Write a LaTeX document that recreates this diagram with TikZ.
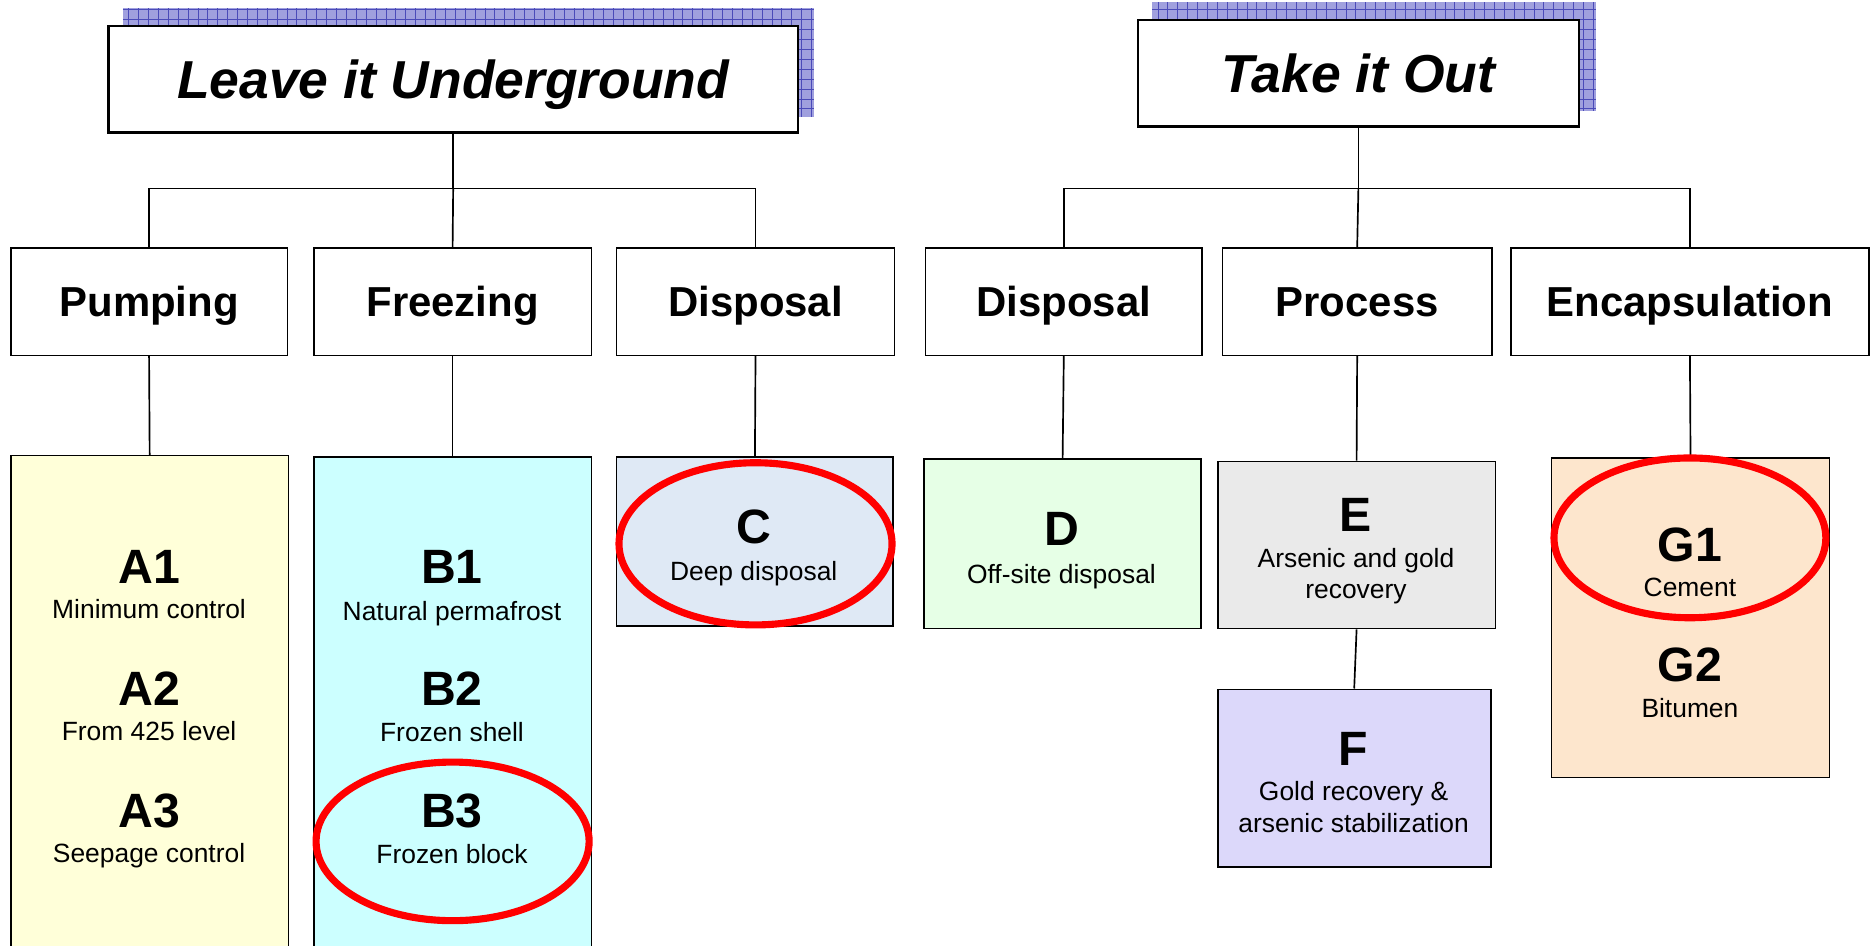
\documentclass[tikz,border=0pt]{standalone}
\usepackage{fontspec}
\setmainfont{Liberation Sans}
\usetikzlibrary{
    shapes.geometric,
    positioning,
    calc,
    backgrounds
}
\definecolor{shadowfill}{RGB}{160, 160, 222}
\definecolor{shadowgrid}{RGB}{75, 75, 185}
\definecolor{pumpyellow}{RGB}{255, 255, 217}
\definecolor{freezecyan}{RGB}{204, 255, 255}
\definecolor{deepblue}{RGB}{223, 233, 245}
\definecolor{offgreen}{RGB}{230, 255, 230}
\definecolor{procgray}{RGB}{234, 234, 234}
\definecolor{goldlav}{RGB}{220, 216, 250}
\definecolor{encpeach}{RGB}{253, 230, 205}

\begin{document}
\begin{tikzpicture}[
        x=0.02cm, y=-0.02cm,
        title/.style={rectangle, draw, line width=1.1pt, fill=white, minimum height=1.78cm, text depth=0pt, font=\fontsize{25.5}{30}\selectfont\bfseries\itshape},
        head/.style={rectangle, draw, line width=0.8pt, fill=white, minimum height=1.8cm, text depth=0pt, font=\fontsize{20}{24}\selectfont\bfseries},
        panel/.style={rectangle, draw, line width=0.8pt},
        code/.style={anchor=base, font=\fontsize{23}{27}\selectfont\bfseries},
        desc/.style={anchor=base, font=\fontsize{12.6}{15}\selectfont},
        pick/.style={ellipse, draw=red, line width=3.4pt},
        link/.style={line width=0.8pt}
    ]
        \useasboundingbox (0,0) rectangle (1568,793);
        \clip (0,0) rectangle (1568,793);

        % Row 1: the two ways
        \node[title, minimum width=11.56cm] (under) at (380,66.5) {Leave it Underground};
        \node[title, minimum width=7.4cm] (out) at (1139,61.5) {Take it Out};

        % Row 2: options
        \node[head, minimum width=4.64cm] (pump) at (125,253) {Pumping};
        \node[head, minimum width=4.66cm] (freeze) at (379.5,253) {Freezing};
        \node[head, minimum width=4.66cm] (dispin) at (633.5,253) {Disposal};
        \node[head, minimum width=4.64cm] (dispout) at (892,253) {Disposal};
        \node[head, minimum width=4.52cm] (proc) at (1138,253) {Process};
        \node[head, minimum width=6cm] (encap) at (1417,253) {Encapsulation};

        % Row 3: alternatives
        \node[panel, fill=pumpyellow, minimum width=4.66cm, minimum height=8.96cm] (pa) at (125.5,606) {};
        \node[panel, fill=freezecyan, minimum width=4.66cm, minimum height=8.94cm] (pb) at (379.5,606.5) {};
        \node[panel, fill=deepblue, minimum width=4.64cm, minimum height=2.84cm] (pc) at (633,454) {};
        \node[panel, fill=offgreen, minimum width=4.64cm, minimum height=2.84cm] (pd) at (891,456) {};
        \node[panel, fill=procgray, minimum width=4.66cm, minimum height=2.8cm] (pe) at (1137.5,457) {};
        \node[panel, fill=goldlav, minimum width=4.58cm, minimum height=2.98cm] (pf) at (1135.5,652.5) {};
        \node[panel, fill=encpeach, minimum width=4.66cm, minimum height=5.36cm] (pg) at (1417.5,518) {};

        % Pumping
        \node[code] (a1) at (125,489.5) {A1};
        \node[desc] (a1t) at (125,519) {Minimum control};
        \node[code] (a2) at (125,591.5) {A2};
        \node[desc] (a2t) at (125,621) {From 425 level};
        \node[code] (a3) at (125,693.5) {A3};
        \node[desc] (a3t) at (125,723) {Seepage control};

        % Freezing
        \node[code] (b1) at (379,489.5) {B1};
        \node[desc] (b1t) at (379,520) {Natural permafrost};
        \node[code] (b2) at (379,591.5) {B2};
        \node[desc] (b2t) at (379,622) {Frozen shell};
        \node[code] (b3) at (379,693.5) {B3};
        \node[desc] (b3t) at (379,724) {Frozen block};

        % Disposal, process, encapsulation
        \node[code] (c) at (632,455.5) {C};
        \node[desc] (ct) at (632,487) {Deep disposal};
        \node[code] (d) at (890,457.5) {D};
        \node[desc] (dt) at (890,489) {Off-site disposal};
        \node[code] (e) at (1137,445.5) {E};
        \node[desc] (et) at (1137,476) {Arsenic and gold};
        \node[desc] (et2) at (1137,502) {recovery};
        \node[code] (f) at (1135,641.5) {F};
        \node[desc] (ft) at (1135,671) {Gold recovery \&};
        \node[desc] (ft2) at (1135,698) {arsenic stabilization};
        \node[code] (g1) at (1417,470.5) {G1};
        \node[desc] (g1t) at (1417,500) {Cement};
        \node[code] (g2) at (1417,571.5) {G2};
        \node[desc] (g2t) at (1417,602) {Bitumen};

        % Tree lines
        \draw[link] (under.south) -- ++(0,46) coordinate (j1);
        \draw[link] (j1) -| (pump.north);
        \draw[link] (j1) -- (freeze.north);
        \draw[link] (j1) -| (dispin.north);
        \draw[link] (out.south) -- ++(0,51) coordinate (j2);
        \draw[link] (j2) -| (dispout.north);
        \draw[link] (j2) -- (proc.north);
        \draw[link] (j2) -| (encap.north);

        \draw[link] (pump.south) -- (pa.north);
        \draw[link] (freeze.south) -- (pb.north);
        \draw[link] (dispin.south) -- (pc.north);
        \draw[link] (dispout.south) -- (pd.north);
        \draw[link] (proc.south) -- (pe.north);
        \draw[link] (pe.south) -- (pf.north);
        \draw[link] (encap.south) -- (pg.north);

        % Chosen alternatives
        \node[pick, minimum width=4.58cm, minimum height=2.72cm] (pickc) at (633.5,456) {};
        \node[pick, minimum width=4.58cm, minimum height=2.66cm] (pickb) at (379.5,705.5) {};
        \node[pick, minimum width=4.56cm, minimum height=2.68cm] (pickg) at (1417,451) {};

        % Grid shadows behind the titles
        \begin{scope}[on background layer]
            \fill[shadowfill] ($(under.south west)+(13,-14)$) rectangle ($(under.north east)+(13,-14)$);
            \draw[shadowgrid, line width=0.4pt, step=0.166cm] ($(under.south west)+(13,-14)$) grid ($(under.north east)+(13,-14)$);
            \fill[shadowfill] ($(out.south west)+(13,-14)$) rectangle ($(out.north east)+(13,-14)$);
            \draw[shadowgrid, line width=0.4pt, step=0.166cm] ($(out.south west)+(13,-14)$) grid ($(out.north east)+(13,-14)$);
        \end{scope}
    \end{tikzpicture}
\end{document}
